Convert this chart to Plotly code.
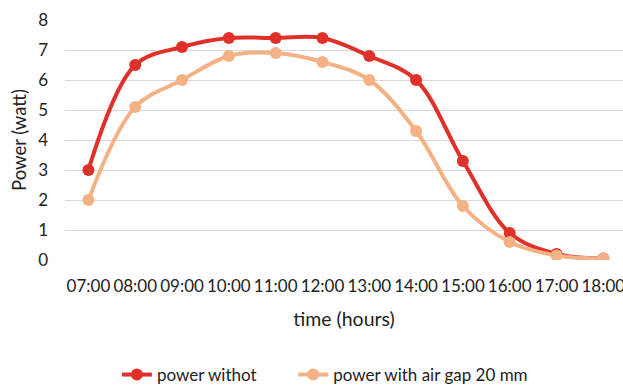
import plotly.graph_objects as go

times = ["07:00", "08:00", "09:00", "10:00", "11:00", "12:00", "13:00",
         "14:00", "15:00", "16:00", "17:00", "18:00"]
power_without = [3.0, 6.5, 7.1, 7.4, 7.4, 7.4, 6.8, 6.0, 3.3, 0.9, 0.2, 0.05]
power_air_gap = [2.0, 5.1, 6.0, 6.8, 6.9, 6.6, 6.0, 4.3, 1.8, 0.6, 0.15, 0.05]

FONT = "Lato"
fig = go.Figure()
fig.add_trace(go.Scatter(
    x=times, y=power_without, name="power withot", mode="lines+markers",
    line=dict(color="#E0302A", width=4, shape="spline", smoothing=1),
    marker=dict(size=12, color="#E0302A"), legend="legend"))
fig.add_trace(go.Scatter(
    x=times, y=power_air_gap, name="power with air gap 20 mm", mode="lines+markers",
    line=dict(color="#F4B183", width=4, shape="spline", smoothing=1),
    marker=dict(size=12, color="#F4B183"), legend="legend2"))

# plot area: top 20px, bottom at 260px -> height 240
leg_common = dict(orientation="h", yanchor="middle", y=-(375 - 260) / 240, xanchor="left",
                  font=dict(size=17), bgcolor="rgba(0,0,0,0)")
fig.update_layout(
    width=623, height=386,
    margin=dict(l=65, r=0, t=20, b=126, autoexpand=False),
    paper_bgcolor="white", plot_bgcolor="white",
    font=dict(family=FONT, size=17, color="#222"),
    showlegend=True,
    legend=dict(x=0.093, **leg_common),
    legend2=dict(x=0.409, **leg_common),
    xaxis=dict(type="category", range=[-0.5, 11.42], showgrid=False, zeroline=False,
               showline=False, ticks="", ticklabelstandoff=14, automargin=False,
               tickfont=dict(size=17),
               title=dict(text="time (hours)", standoff=17, font=dict(size=19.5))),
    yaxis=dict(range=[0, 8], dtick=1, showgrid=True, gridcolor="#D9D9D9", gridwidth=1.3,
               zeroline=False, showline=False, ticks="", ticklabelstandoff=16,
               automargin=False, tickfont=dict(size=17),
               title=dict(text="Power (watt)", standoff=6, font=dict(size=18.5))),
)
fig.write_html("out.html")
